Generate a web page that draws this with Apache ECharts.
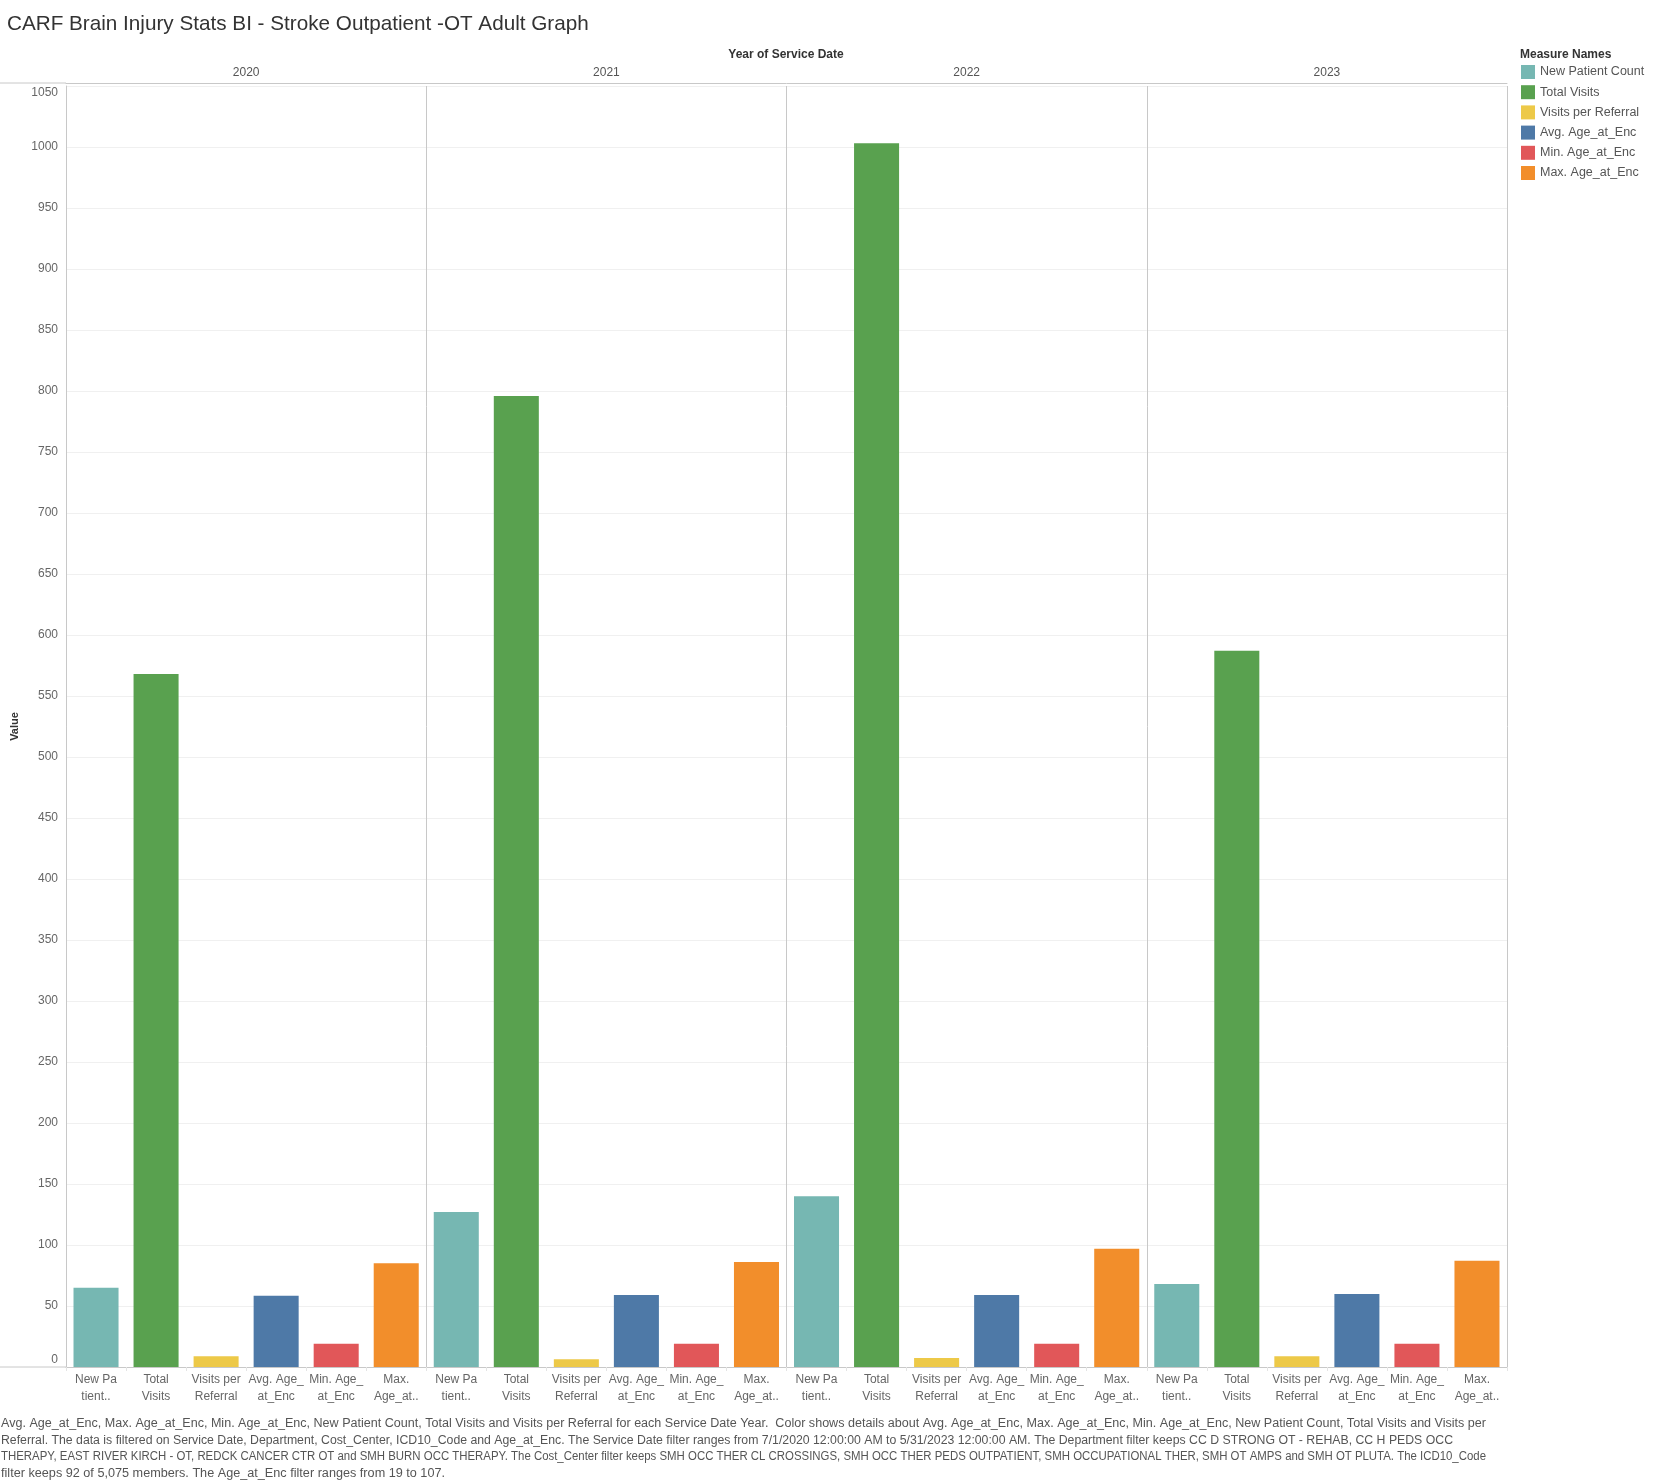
<!DOCTYPE html>
<html>
<head>
<meta charset="utf-8">
<title>CARF Brain Injury Stats BI - Stroke Outpatient -OT Adult Graph</title>
<script src="https://cdn.jsdelivr.net/npm/echarts@6/dist/echarts.min.js"></script>
<style>
  html, body { margin: 0; padding: 0; background: #fff; }
  #chart { width: 1658px; height: 1484px; }
</style>
</head>
<body>
<div id="chart"></div>
<script>
// values
const years = ['2020', '2021', '2022', '2023'];
const measureNames = ['New Patient Count', 'Total Visits', 'Visits per Referral', 'Avg. Age_at_Enc', 'Min. Age_at_Enc', 'Max. Age_at_Enc'];
const measureLabels = ['New Pa\ntient..', 'Total\nVisits', 'Visits per\nReferral', 'Avg. Age_\nat_Enc', 'Min. Age_\nat_Enc', 'Max.\nAge_at..'];
const measureColors = ['#76b7b2', '#59a14f', '#edc948', '#4e79a7', '#e15759', '#f28e2b'];

const newPatientCount = [65, 127, 140, 68];
const totalVisits = [568, 796, 1003, 587];
const visitsPerReferral = [8.8, 6.4, 7.3, 8.8];
const avgAge = [58.3, 59.1, 59.1, 59.9];
const minAge = [19, 19, 19, 19];
const maxAge = [85, 86, 97, 87];

const yMin = 0;
const yMax = 1050;
const yStep = 50;

const footerLines = [
  'Avg. Age_at_Enc, Max. Age_at_Enc, Min. Age_at_Enc, New Patient Count, Total Visits and Visits per Referral for each Service Date Year.  Color shows details about Avg. Age_at_Enc, Max. Age_at_Enc, Min. Age_at_Enc, New Patient Count, Total Visits and Visits per',
  'Referral. The data is filtered on Service Date, Department, Cost_Center, ICD10_Code and Age_at_Enc. The Service Date filter ranges from 7/1/2020 12:00:00 AM to 5/31/2023 12:00:00 AM. The Department filter keeps CC D STRONG OT - REHAB, CC H PEDS OCC',
  'THERAPY, EAST RIVER KIRCH - OT, REDCK CANCER CTR OT and SMH BURN OCC THERAPY. The Cost_Center filter keeps SMH OCC THER CL CROSSINGS, SMH OCC THER PEDS OUTPATIENT, SMH OCCUPATIONAL THER, SMH OT AMPS and SMH OT PLUTA. The ICD10_Code',
  'filter keeps 92 of 5,075 members. The Age_at_Enc filter ranges from 19 to 107.',
];
// how wide each caption line runs in the reference (the original font is narrower)
const footerWidths = [1485, 1452, 1485, 444];

const values = [newPatientCount, totalVisits, visitsPerReferral, avgAge, minAge, maxAge];

// one category slot per (year, measure)
const categories = [];
years.forEach(() => measureLabels.forEach((l) => categories.push(l)));

const series = measureNames.map((name, m) => {
  const data = categories.map(() => '-');
  years.forEach((y, i) => { data[i * measureNames.length + m] = values[m][i]; });
  return {
    name,
    type: 'bar',
    stack: 'all',
    barCategoryGap: '25%',
    itemStyle: { color: measureColors[m] },
    data,
  };
});

const font = 'Arial, "Liberation Sans", sans-serif';
const footFont = '12px ' + font;
const gridLeft = 66, gridRight = 151, gridTop = 86, gridBottom = 117;

const ctx = document.createElement('canvas').getContext('2d');
ctx.font = footFont;
const footer = footerLines.map((line, i) => ({
  type: 'text',
  x: 1, y: 1424 + i * 16.5,
  scaleX: footerWidths[i] / ctx.measureText(line).width,
  style: { text: line, font: footFont, fill: '#555', verticalAlign: 'middle' },
}));

const chart = echarts.init(document.getElementById('chart'), null, { renderer: 'canvas' });

chart.setOption({
  animation: false,
  backgroundColor: '#fff',
  textStyle: { fontFamily: font },
  title: [
    {
      text: 'CARF Brain Injury Stats BI - Stroke Outpatient -OT Adult Graph',
      left: 2, top: 9,
      textStyle: { fontSize: 20.7, fontWeight: 'normal', color: '#333', fontFamily: font },
    },
    {
      text: 'Year of Service Date',
      left: 781, top: 44, textAlign: 'center',
      textStyle: { fontSize: 12, fontWeight: 'bold', color: '#333', fontFamily: font },
    },
  ],
  legend: {
    orient: 'vertical',
    left: 1521, top: 65, padding: 0,
    itemWidth: 14, itemHeight: 14, itemGap: 6.2,
    icon: 'rect',
    textStyle: { fontSize: 12.5, color: '#555', fontFamily: font },
    data: measureNames,
  },
  grid: { left: gridLeft, right: gridRight, top: gridTop, bottom: gridBottom, containLabel: false },
  xAxis: [
    {
      type: 'category',
      data: categories,
      position: 'bottom',
      axisLine: { lineStyle: { color: '#c8c8c8' } },
      axisTick: { show: true, length: 4, lineStyle: { color: '#e4e4e4' } },
      axisLabel: { interval: 0, color: '#666', fontSize: 12, lineHeight: 17, margin: 4 },
      splitLine: { show: false },
    },
    {
      type: 'category',
      data: years,
      position: 'top',
      offset: 3,
      axisLine: { show: true, lineStyle: { color: '#c8c8c8' } },
      axisTick: { show: false },
      axisLabel: { color: '#555', fontSize: 12, margin: 4 },
      splitLine: { show: true, lineStyle: { color: '#c8c8c8' } },
    },
  ],
  yAxis: {
    type: 'value',
    min: yMin, max: yMax, interval: yStep,
    name: 'Value',
    nameLocation: 'middle',
    nameGap: 45,
    nameTextStyle: { fontSize: 11, fontWeight: 'bold', color: '#333' },
    axisLine: { show: true, lineStyle: { color: '#c8c8c8' } },
    axisTick: { show: false },
    axisLabel: {
      color: '#666', fontSize: 12, margin: 8,
      formatter: (v) => (v === yMin ? '{lo|' + v + '}' : v === yMax ? '{hi|' + v + '}' : String(v)),
      rich: {
        lo: { color: '#666', fontSize: 12, padding: [0, 0, 15, 0] },
        hi: { color: '#666', fontSize: 12, padding: [13, 0, 0, 0] },
      },
    },
    splitLine: { lineStyle: { color: '#f0f0f0' } },
  },
  graphic: [
    { type: 'line', shape: { x1: 0, y1: gridTop - 3, x2: gridLeft, y2: gridTop - 3 }, style: { stroke: '#c8c8c8', lineWidth: 1 } },
    { type: 'line', shape: { x1: 0, y1: 1484 - gridBottom, x2: gridLeft, y2: 1484 - gridBottom }, style: { stroke: '#c8c8c8', lineWidth: 1 } },
    {
      type: 'text', left: 1520, top: 49,
      style: { text: 'Measure Names', font: 'bold 12px ' + font, fill: '#333' },
    },
  ].concat(footer),
  series,
});
</script>
</body>
</html>
